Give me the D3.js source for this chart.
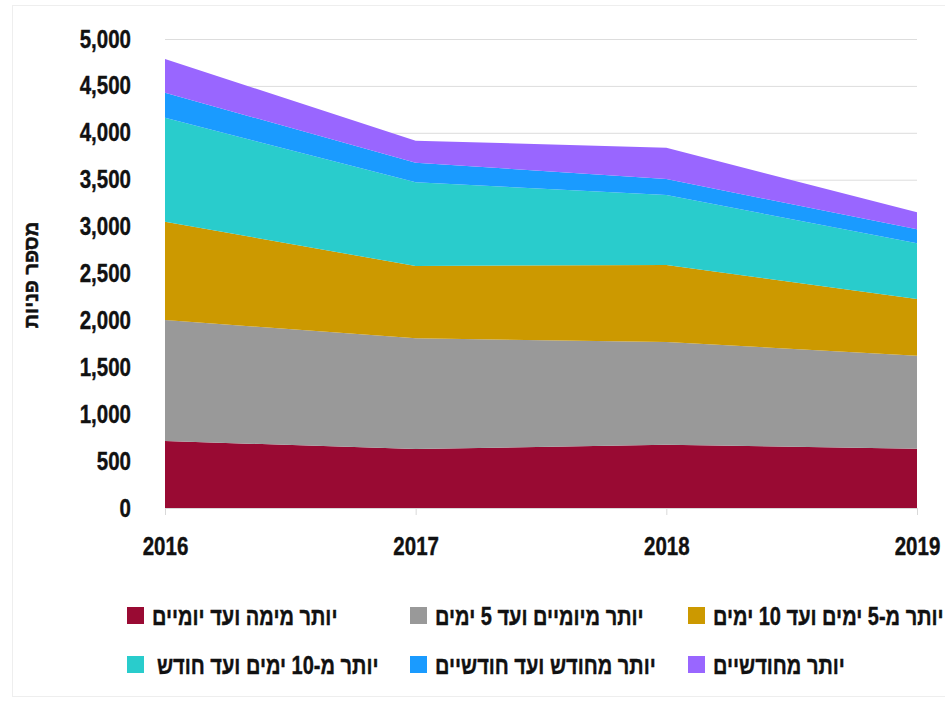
<!DOCTYPE html>
<html>
<head>
<meta charset="utf-8">
<script src="https://cdn.jsdelivr.net/npm/d3@7"></script>
<style>
  html, body { margin: 0; padding: 0; background: #fff; }
  text { font-family: "Liberation Sans", "DejaVu Sans", sans-serif; font-weight: bold; fill: #111; }
</style>
</head>
<body>
<svg id="chart" width="945" height="701"></svg>
<script>
const years = ["2016", "2017", "2018", "2019"];
const seriesNames = [
  "יותר מימה ועד יומיים",
  "יותר מיומיים ועד 5 ימים",
  "יותר מ-5 ימים ועד 10 ימים",
  "יותר מ-10 ימים ועד חודש",
  "יותר מחודש ועד חודשיים",
  "יותר מחודשיים"
];
const dayToTwo     = [714, 629, 675, 632];
const twoToFive    = [1290, 1180, 1095, 992];
const fiveToTen    = [1048, 771, 821, 604];
const tenToMonth   = [1109, 892, 746, 594];
const monthToTwo   = [266, 209, 170, 149];
const overTwoMonth = [360, 235, 334, 181];
const yTicks = [0, 500, 1000, 1500, 2000, 2500, 3000, 3500, 4000, 4500, 5000];
const colors = ["#990a33", "#999999", "#cc9900", "#29cccc", "#1a9bff", "#9966ff"];
const yTitle = "מספר פניות";

const seriesValues = [dayToTwo, twoToFive, fiveToTen, tenToMonth, monthToTwo, overTwoMonth];
const keys = seriesNames.map((d, i) => "s" + i);
const table = years.map((y, j) => {
  const row = { year: y };
  keys.forEach((k, i) => row[k] = seriesValues[i][j]);
  return row;
});

const condense = 0.82;
const legendCondense = 0.8;

const svg = d3.select("#chart");
svg.append("rect").attr("x", 12.5).attr("y", 5.5).attr("width", 940).attr("height", 691)
  .attr("fill", "none").attr("stroke", "#eeeeee");

const x = d3.scalePoint().domain(years).range([165, 917]);
const y = d3.scaleLinear().domain([0, 5000]).range([508, 39]);

// gridlines
svg.append("g").selectAll("line").data(yTicks.filter(t => t > 0)).join("line")
  .attr("x1", 165).attr("x2", 917)
  .attr("y1", d => y(d) + 0.5).attr("y2", d => y(d) + 0.5)
  .attr("stroke", "#dddddd").attr("stroke-width", 1);

const stack = d3.stack().keys(keys);
const stacked = stack(table);
const area = d3.area()
  .x(d => x(d.data.year))
  .y0(d => y(d[0]))
  .y1(d => y(d[1]));

svg.append("g").selectAll("path").data(stacked).join("path")
  .attr("d", area)
  .attr("fill", (d, i) => colors[i]);

// x axis
const xAxis = svg.append("g").attr("transform", "translate(0,508)")
  .call(d3.axisBottom(x).tickSize(7).tickPadding(22));
xAxis.select(".domain").attr("stroke", "#d9d9d9");
xAxis.selectAll(".tick line").attr("stroke", "#d9d9d9");
xAxis.selectAll("text").attr("font-size", 25).attr("fill", "#111")
  .attr("stroke", "#111").attr("stroke-width", 0.4)
  .attr("transform", `scale(${condense},1)`)
  .style("font-family", "'Liberation Sans', sans-serif").style("font-weight", "bold");

// y axis
const yAxis = svg.append("g").attr("transform", "translate(131,0)")
  .call(d3.axisLeft(y).tickValues(yTicks).tickFormat(d3.format(",")).tickSize(0).tickPadding(0));
yAxis.select(".domain").remove();
yAxis.selectAll("text").attr("font-size", 25).attr("fill", "#111")
  .attr("stroke", "#111").attr("stroke-width", 0.4)
  .attr("transform", `scale(${condense},1)`)
  .style("font-family", "'Liberation Sans', sans-serif").style("font-weight", "bold");

// y title
svg.append("text")
  .attr("transform", "translate(38,275) rotate(-90)")
  .attr("text-anchor", "middle")
  .attr("font-size", 20)
  .attr("stroke", "#111").attr("stroke-width", 0.5)
  .text(yTitle);

// legend
const legendCols = [127, 410, 688];
const legendRows = [616, 665];
const lg = svg.append("g").selectAll("g").data(seriesNames).join("g")
  .attr("transform", (d, i) => `translate(${legendCols[i % 3]},${legendRows[Math.floor(i / 3)]})`);
lg.append("rect").attr("x", 0).attr("y", -9).attr("width", 17).attr("height", 17)
  .attr("fill", (d, i) => colors[i]);
lg.append("text")
  .attr("transform", (d, i) => `translate(${i === 3 ? 30 : 25},0) scale(${legendCondense},1)`)
  .attr("y", 0).attr("dy", "0.35em")
  .attr("font-size", 25).attr("direction", "rtl").attr("text-anchor", "end")
  .attr("stroke", "#111").attr("stroke-width", 0.4)
  .text(d => d);
</script>
</body>
</html>
